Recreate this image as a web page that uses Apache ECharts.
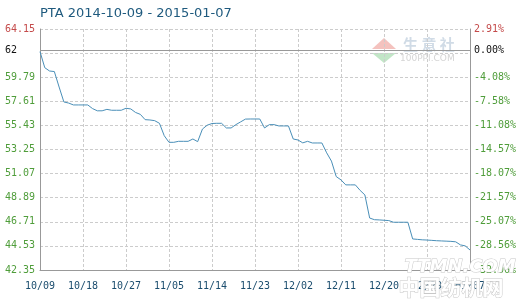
<!DOCTYPE html>
<html><head><meta charset="utf-8">
<script src="https://cdn.jsdelivr.net/npm/echarts@6/dist/echarts.min.js"></script>
<style>html,body{margin:0;padding:0;background:#fff}#c{width:520px;height:300px}</style>
</head><body><div id="c"></div>
<script>
const categories = [
'10/09','10/10','10/11','10/12','10/13','10/14','10/15','10/16','10/17','10/18','10/19','10/20','10/21','10/22','10/23','10/24','10/25','10/26','10/27','10/28','10/29','10/30','10/31',
'11/01','11/02','11/03','11/04','11/05','11/06','11/07','11/08','11/09','11/10','11/11','11/12','11/13','11/14','11/15','11/16','11/17','11/18','11/19','11/20','11/21','11/22','11/23','11/24','11/25','11/26','11/27','11/28','11/29','11/30',
'12/01','12/02','12/03','12/04','12/05','12/06','12/07','12/08','12/09','12/10','12/11','12/12','12/13','12/14','12/15','12/16','12/17','12/18','12/19','12/20','12/21','12/22','12/23','12/24','12/25','12/26','12/27','12/28','12/29','12/30','12/31',
'01/01','01/02','01/03','01/04','01/05','01/06','01/07'];
const prices = [
62.1, 60.65, 60.35, 60.3, 58.9, 57.55, 57.45, 57.28, 57.28, 57.28,
57.28, 56.95, 56.75, 56.75, 56.88, 56.8, 56.8, 56.8, 56.98, 56.92,
56.6, 56.43, 55.95, 55.92, 55.86, 55.62, 54.5, 53.9, 53.9, 53.99,
53.99, 53.99, 54.2, 53.96, 55.1, 55.45, 55.6, 55.62, 55.62, 55.2,
55.2, 55.5, 55.75, 56.0, 56.01, 56.01, 56.01, 55.2, 55.5, 55.5,
55.38, 55.38, 55.38, 54.2, 54.11, 53.85, 53.99, 53.84, 53.84, 53.84,
52.95, 52.2, 50.8, 50.5, 50.05, 50.05, 50.05, 49.55, 49.14, 47.05,
46.9, 46.88, 46.85, 46.82, 46.67, 46.67, 46.67, 46.67, 45.16, 45.12,
45.08, 45.06, 45.03, 45.0, 44.98, 44.96, 44.94, 44.9, 44.62, 44.53,
44.16];
const leftTickLabels = ['42.35','44.53','46.71','48.89','51.07','53.25','55.43','57.61','59.79','62','64.15'];
const rightTickLabels = ['-32.06%','-28.56%','-25.07%','-21.57%','-18.07%','-14.57%','-11.08%','-7.58%','-4.08%','0.00%','2.91%'];
const labelPositions = [42.35,44.53,46.71,48.89,51.07,53.25,55.43,57.61,59.79,62.25,64.15];
const baseValue = 62.25;
const yMin = 42.35, yMax = 64.15;
const gridSteps = 10;

const GREEN = '#4f9d3a', RED = '#c44a4a', BLACK = '#111';
const MONO = '"DejaVu Sans Mono", monospace';
function tickIndex(v){ return labelPositions.findIndex(p => Math.abs(p - v) < 1e-6); }
function styled(text, i){
  const key = i === labelPositions.length - 1 ? 'r' : (i === labelPositions.length - 2 ? 'k' : 'g');
  return '{' + key + '|' + text + '}';
}
const rich = {
  r: {color: RED, fontFamily: MONO, fontSize: 10},
  k: {color: BLACK, fontFamily: MONO, fontSize: 10},
  g: {color: GREEN, fontFamily: MONO, fontSize: 10}
};

const chart = echarts.init(document.getElementById('c'), null, {renderer: 'canvas'});
chart.setOption({
  animation: false,
  backgroundColor: '#fff',
  title: {
    text: 'PTA 2014-10-09 - 2015-01-07',
    left: 40, top: 7, padding: 0,
    textStyle: {fontFamily: '"DejaVu Sans", sans-serif', fontSize: 13, fontWeight: 'normal', color: '#1f5a7e'}
  },
  grid: {left: 40, right: 50, top: 29, bottom: 30, containLabel: false},
  xAxis: {
    type: 'category', data: categories, boundaryGap: false,
    axisLine: {show: true, lineStyle: {color: '#999', width: 1}},
    axisTick: {show: false},
    axisLabel: {interval: 8, margin: 11, color: '#1b4d6e', fontFamily: MONO, fontSize: 10},
    splitLine: {show: true, interval: 8, lineStyle: {color: '#ccc', type: [3, 2], width: 1}}
  },
  yAxis: [
    {
      type: 'value', min: yMin, max: yMax, position: 'left',
      axisLine: {show: true, lineStyle: {color: '#999', width: 1}},
      axisTick: {show: false},
      splitLine: {show: false},
      axisLabel: {
        customValues: labelPositions, align: 'left', margin: 35,
        formatter: v => { const i = tickIndex(v); return i < 0 ? '' : styled(leftTickLabels[i], i); },
        rich: rich
      }
    },
    {
      type: 'value', min: 0, max: gridSteps, interval: 1, position: 'left',
      axisLine: {show: false}, axisTick: {show: false}, axisLabel: {show: false},
      splitLine: {show: true, lineStyle: {color: '#ccc', type: [3, 2], width: 1}}
    },
    {
      type: 'value', min: yMin, max: yMax, position: 'right',
      axisLine: {show: true, lineStyle: {color: '#999', width: 1}},
      axisTick: {show: false},
      splitLine: {show: false},
      axisLabel: {
        customValues: labelPositions, align: 'left', margin: 4,
        formatter: v => { const i = tickIndex(v); return i < 0 ? '' : styled(rightTickLabels[i], i); },
        rich: rich
      }
    }
  ],
  series: [{
    type: 'line', data: prices, yAxisIndex: 0,
    symbol: 'none', smooth: false,
    lineStyle: {color: '#4a8fb8', width: 1},
    itemStyle: {color: '#4a8fb8'},
    markLine: {
      silent: true, symbol: 'none', label: {show: false},
      lineStyle: {color: '#999', type: 'solid', width: 1},
      data: [{yAxis: baseValue}]
    }
  }],
  graphic: [
    {type: 'polygon', shape: {points: [[372,49],[384,38],[396,49]]}, style: {fill: 'rgba(230,120,110,0.45)'}, z: 0},
    {type: 'polygon', shape: {points: [[372,53],[384,63],[396,53]]}, style: {fill: 'rgba(120,200,130,0.45)'}, z: 0},
    {type: 'text', left: 403, top: 37, style: {text: '生 意 社', fill: 'rgba(150,175,200,0.45)', font: 'bold 15px "Noto Sans CJK SC"'}, z: 0},
    {type: 'text', left: 400, top: 54, style: {text: '100PPI.COM', fill: 'rgba(170,170,170,0.5)', font: '9px "DejaVu Sans"'}, z: 0},
    {type: 'text', left: 404, top: 258, style: {text: 'TTMN.COM', fill: '#fff', stroke: '#c8c8c8', lineWidth: 1, font: 'italic bold 18px "DejaVu Sans"'}, z: 100},
    {type: 'text', left: 398, top: 276, style: {text: '中国纺机网', fill: '#fff', stroke: '#c8c8c8', lineWidth: 1, font: 'bold 21px "Noto Sans CJK SC"'}, z: 100}
  ]
});
</script>
</body></html>
